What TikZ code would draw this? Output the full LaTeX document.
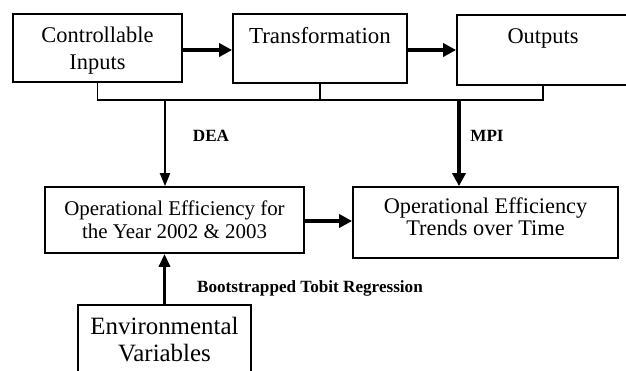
\documentclass[tikz,border=0pt]{standalone}
\usepackage{fontspec}
\setmainfont{Liberation Serif}
\usetikzlibrary{arrows.meta}
\begin{document}
\begin{tikzpicture}[x=1bp,y=-1bp,
  box/.style={draw, line width=1.7bp, inner sep=0pt},
  txt/.style={align=center, inner sep=0pt},
  lbl/.style={font=\fontsize{17.2}{19}\selectfont\bfseries, inner sep=0pt},
  thickarrow/.style={line width=4.5bp, -{Triangle[length=13bp,width=13bp]}},
  thinarrow/.style={line width=2bp, -{Triangle[length=13bp,width=10bp]}},
  bus/.style={line width=1.8bp}]
\clip (0,0) rectangle (626,370);
\fill[white] (0,0) rectangle (626,370);

% top row: process boxes
\node[box, minimum width=169bp, minimum height=68bp] (inputs) at (97.5,48) {};
\node[box, minimum width=174bp, minimum height=69bp] (trans) at (320,48.5) {};
\node[box, minimum width=172bp, minimum height=70bp] (outputs) at (543,50) {};
\node[txt, font=\fontsize{22.5}{27}\selectfont] (inputsT) at (97.5,50.5) {Controllable\\Inputs};
\node[txt, font=\fontsize{23}{28}\selectfont, anchor=base] (transT) at (320,43) {Transformation};
\node[txt, font=\fontsize{22.5}{28}\selectfont, anchor=base] (outputsT) at (543,43) {Outputs};

% middle row: efficiency results
\node[box, minimum width=259bp, minimum height=66bp] (opeff) at (174.5,220) {};
\node[box, minimum width=265bp, minimum height=71bp] (trend) at (485.5,222.5) {};
\node[txt, font=\fontsize{21}{23}\selectfont] (opeffT) at (174.5,219.3) {Operational Efficiency for\\the Year 2002 \& 2003};
\node[txt, font=\fontsize{22.4}{22}\selectfont] (trendT) at (485.5,216.5) {Operational Efficiency\\Trends over Time};

% bottom: environmental variables
\node[box, minimum width=173bp, minimum height=80bp] (env) at (164.5,345) {};
\node[txt, font=\fontsize{25}{27}\selectfont] (envT) at (164.5,339.5) {Environmental\\Variables};

% arrows along the top row and to the trend box
\draw[thickarrow] (inputs.east |- 0,50) -- (trans.west |- 0,50);
\draw[thickarrow] (trans.east |- 0,50) -- (outputs.west |- 0,50);
\draw[thickarrow] (opeff.east |- 0,221) -- (trend.west |- 0,221);

% collecting bus under the top row
\coordinate (busL) at (97.5,100);
\coordinate (busR) at (543,100);
\coordinate (dea) at (165,100);
\coordinate (mpi) at (459,100);
\draw[bus] (inputs.south) -- (busL) -- (busR) -- (outputs.south);
\draw[bus] (trans.south) -- (trans.south |- busL);

\draw[thinarrow] (dea) -- (dea |- opeff.north);
\draw[thickarrow] (mpi) -- (mpi |- trend.north);
\draw[line width=3.5bp, -{Triangle[length=13bp,width=11bp]}] (env.north) -- (env.north |- opeff.south);

% method labels
\node[lbl] (ldea) at (211,136) {DEA};
\node[lbl] (lmpi) at (487,136) {MPI};
\node[lbl, anchor=base] (ltobit) at (310,292) {Bootstrapped Tobit Regression};
\end{tikzpicture}
\end{document}
